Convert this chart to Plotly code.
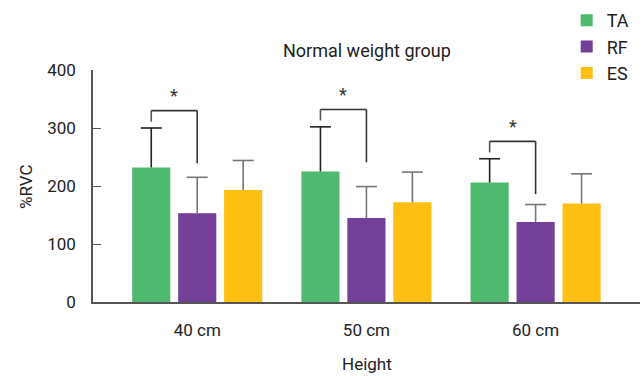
import plotly.graph_objects as go

heights = ["40 cm", "50 cm", "60 cm"]
muscles = ["TA", "RF", "ES"]
ta_mean = [232, 225, 206]
ta_sd = [68, 77, 41]
rf_mean = [153, 145, 138]
rf_sd = [62, 54, 30]
es_mean = [193, 172, 170]
es_sd = [51, 52, 51]
y_ticks = [0, 100, 200, 300, 400]

colors = ["#4FBA6F", "#743F96", "#FCBF12"]
err_colors = ["#222222", "#777777", "#777777"]
FONT = "Roboto, Liberation Sans, sans-serif"
TXT = "#222222"

bargap = 0.185
x = list(range(len(heights)))
slot = (1 - bargap) / 3

fig = go.Figure()
means_all = [ta_mean, rf_mean, es_mean]
sds_all = [ta_sd, rf_sd, es_sd]
for name, m, s, c, ec in zip(muscles, means_all, sds_all, colors, err_colors):
    fig.add_trace(go.Bar(
        x=x, y=m, name=name, marker=dict(color=c, line=dict(width=0)),
        error_y=dict(type="data", array=s, arrayminus=[0]*len(s), symmetric=False,
                     color=ec, thickness=1.6, width=0),
    ))
# error-bar caps (upper only)
for k, (m, s, ec) in enumerate(zip(means_all, sds_all, err_colors)):
    fig.add_trace(go.Scatter(
        x=[i + (k - 1) * slot for i in x], y=[a + b for a, b in zip(m, s)],
        mode="markers", showlegend=False, hoverinfo="skip",
        marker=dict(symbol="line-ew", size=15, line=dict(width=1.6, color=ec)),
    ))

shapes = []
annotations = []
for i in range(len(heights)):
    ta_top = ta_mean[i] + ta_sd[i]
    xl = i - slot
    xr = i
    top = ta_top + 30
    shapes.append(dict(type="line", xref="x", yref="y", x0=xl, x1=xl, y0=ta_top + 11, y1=top,
                       line=dict(color="#555555", width=1.6)))
    shapes.append(dict(type="line", xref="x", yref="y", x0=xl, x1=xr, y0=top, y1=top,
                       line=dict(color="#333333", width=1.6)))
    shapes.append(dict(type="line", xref="x", yref="y", x0=xr, x1=xr, y0=top - 91, y1=top,
                       line=dict(color="#333333", width=1.6)))
    annotations.append(dict(x=(xl + xr) / 2, y=top + 4, xref="x", yref="y", text="*",
                            showarrow=False, yanchor="bottom",
                            font=dict(family=FONT, size=18, color="#333333")))

annotations += [
    dict(x=0.5, y=1.082, xref="paper", yref="paper", text="Normal weight group", showarrow=False,
         font=dict(family=FONT, size=18, color=TXT), xanchor="center", yanchor="middle"),
    dict(x=0.5, y=-0.267, xref="paper", yref="paper", text="Height", showarrow=False,
         font=dict(family=FONT, size=17, color=TXT), xanchor="center", yanchor="middle"),
    dict(x=-0.1225, y=0.5, xref="paper", yref="paper", text="%RVC", showarrow=False, textangle=-90,
         font=dict(family=FONT, size=17, color=TXT), xanchor="center", yanchor="middle"),
]

fig.update_layout(
    width=641, height=376,
    margin=dict(l=93, r=1, t=70, b=74, autoexpand=False),
    paper_bgcolor="white", plot_bgcolor="white",
    barmode="group", bargap=bargap, bargroupgap=0.17,
    font=dict(family=FONT, size=16, color=TXT),
    shapes=shapes, annotations=annotations,
    legend=dict(x=0.866, y=1.293, xanchor="left", yanchor="top",
                font=dict(family=FONT, size=18, color=TXT), bgcolor="rgba(0,0,0,0)",
                tracegroupgap=0),
    showlegend=True,
)
fig.update_xaxes(range=[-0.616, 2.617], tickvals=x, ticktext=heights, showline=True,
                 linecolor="#555555", linewidth=1.6, ticks="", showgrid=False, zeroline=False,
                 tickfont=dict(family=FONT, size=17, color=TXT), ticklabelstandoff=12)
fig.update_yaxes(range=[0, 400], tickvals=y_ticks, showline=True, linecolor="#555555", linewidth=1.6,
                 ticks="inside", ticklen=8, tickwidth=1.4, tickcolor="#555555", showgrid=False,
                 zeroline=False, tickfont=dict(family=FONT, size=17, color=TXT), ticklabelstandoff=12)

fig.write_html("out.html", config={"displayModeBar": False},
               post_script="document.body.style.margin='0';document.body.style.overflow='hidden';")
